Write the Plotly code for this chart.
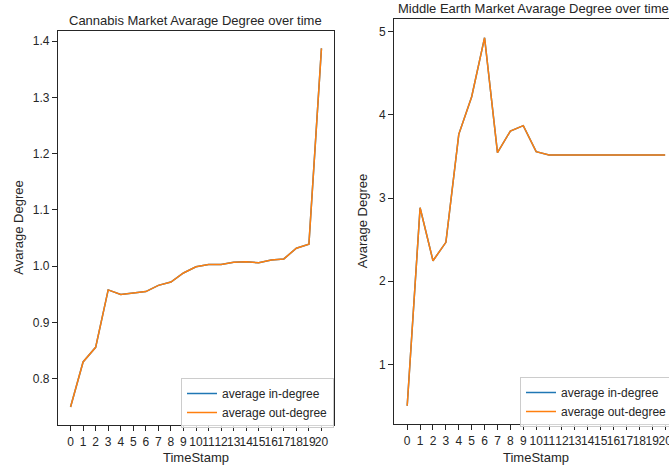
import plotly.graph_objects as go

W, H = 669, 468

timestamps = list(range(21))
tick_labels = [str(t) for t in timestamps]

cannabis_in = [0.750, 0.830, 0.856, 0.958, 0.950, 0.952, 0.955, 0.966, 0.972, 0.988,
               0.999, 1.003, 1.003, 1.007, 1.008, 1.006, 1.011, 1.013, 1.032, 1.039, 1.387]
cannabis_out = [0.750, 0.830, 0.856, 0.958, 0.950, 0.952, 0.955, 0.966, 0.972, 0.988,
                0.999, 1.003, 1.003, 1.007, 1.008, 1.006, 1.011, 1.013, 1.032, 1.039, 1.387]

middle_in = [0.502, 2.883, 2.246, 2.467, 3.766, 4.218, 4.928, 3.545, 3.806, 3.870,
             3.557, 3.517, 3.516, 3.516, 3.516, 3.516, 3.516, 3.516, 3.516, 3.516, 3.516]
middle_out = [0.502, 2.883, 2.246, 2.467, 3.766, 4.218, 4.928, 3.545, 3.806, 3.870,
              3.557, 3.517, 3.516, 3.516, 3.516, 3.516, 3.516, 3.516, 3.516, 3.516, 3.516]

cannabis_yticks = [0.8, 0.9, 1.0, 1.1, 1.2, 1.3, 1.4]
middle_yticks = [1, 2, 3, 4, 5]

BLUE = "#1f77b4"
ORANGE = "#ff7f0e"
DARK = "#262626"
FONT = "Liberation Sans, Arial, sans-serif"


def px_x(p):
    return p / W


def px_y(p):
    return 1 - p / H


fig = go.Figure()

fig.add_trace(go.Scatter(x=timestamps, y=cannabis_in, mode="lines", name="average in-degree",
                         line=dict(color=BLUE, width=1.5), xaxis="x", yaxis="y", legend="legend"))
fig.add_trace(go.Scatter(x=timestamps, y=cannabis_out, mode="lines", name="average out-degree",
                         line=dict(color=ORANGE, width=1.5), xaxis="x", yaxis="y", legend="legend"))
fig.add_trace(go.Scatter(x=timestamps, y=middle_in, mode="lines", name="average in-degree",
                         line=dict(color=BLUE, width=1.5), xaxis="x2", yaxis="y2", legend="legend2"))
fig.add_trace(go.Scatter(x=timestamps, y=middle_out, mode="lines", name="average out-degree",
                         line=dict(color=ORANGE, width=1.5), xaxis="x2", yaxis="y2", legend="legend2"))

axis_common = dict(showgrid=False, zeroline=False, showline=True, linecolor=DARK, linewidth=1.25,
                   ticks="outside", ticklen=5, tickwidth=1.25, tickcolor=DARK,
                   ticklabeloverflow="allow",
                   tickfont=dict(family=FONT, size=12, color=DARK))

legend_common = dict(bgcolor="rgba(255,255,255,0.8)", bordercolor="#cccccc", borderwidth=1,
                     font=dict(family=FONT, size=12, color=DARK), xanchor="left", yanchor="top",
                     tracegroupgap=0, itemwidth=30)

fig.update_layout(
    width=W, height=H,
    margin=dict(l=0, r=0, t=0, b=0, autoexpand=False),
    paper_bgcolor="white", plot_bgcolor="white",
    font=dict(family=FONT, color=DARK),
    xaxis=dict(domain=[px_x(58), px_x(334)], range=[-1, 21], anchor="y", mirror=True,
               tickangle=0, tickmode="array", tickvals=timestamps, ticktext=tick_labels,
               **axis_common),
    yaxis=dict(domain=[px_y(425), px_y(31)], range=[0.718, 1.4178], anchor="x", mirror=True,
               tickmode="array", tickvals=cannabis_yticks,
               ticktext=[f"{v:.1f}" for v in cannabis_yticks], **axis_common),
    xaxis2=dict(domain=[px_x(394.3), 1.0], range=[-1, 20.3], anchor="y2", mirror=True,
                tickangle=0, tickmode="array", tickvals=timestamps, ticktext=tick_labels,
                **axis_common),
    yaxis2=dict(domain=[px_y(424), px_y(19)], range=[0.282, 5.153], anchor="x2", mirror=False,
                tickmode="array", tickvals=middle_yticks,
                ticktext=[str(v) for v in middle_yticks], **axis_common),
    legend=dict(x=px_x(181), y=px_y(378), **legend_common),
    legend2=dict(x=px_x(520), y=px_y(377), **legend_common),
    showlegend=True,
)

annotations = [
    dict(text="Cannabis Market Avarage Degree over time", x=px_x(196), y=px_y(20.7),
         font=dict(size=13)),
    dict(text="Middle Earth Market Avarage Degree over time", x=px_x(533), y=px_y(8.3),
         font=dict(size=13)),
    dict(text="TimeStamp", x=px_x(196), y=px_y(457.5), font=dict(size=13)),
    dict(text="TimeStamp", x=px_x(536), y=px_y(457.5), font=dict(size=13)),
    dict(text="Avarage Degree", x=px_x(17.7), y=px_y(228), textangle=-90, font=dict(size=13)),
    dict(text="Avarage Degree", x=px_x(362.7), y=px_y(221.5), textangle=-90, font=dict(size=13)),
]
for a in annotations:
    a.update(xref="paper", yref="paper", showarrow=False, xanchor="center", yanchor="middle")
    a["font"].update(family=FONT, color=DARK)
fig.update_layout(annotations=annotations)

fig.write_html("out.html")
